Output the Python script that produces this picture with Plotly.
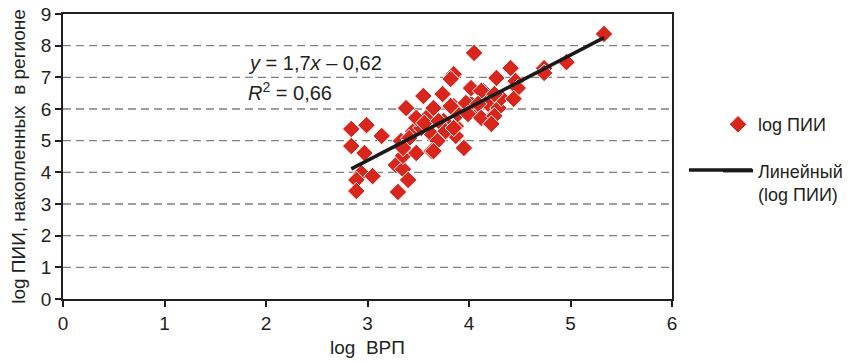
import plotly.graph_objects as go

# Data: log ВРП (x) and log ПИИ (y) per region
log_vrp = [2.84, 2.99, 3.14, 2.84, 2.97, 2.94, 3.05, 2.89, 2.89, 3.28,
           3.30, 3.35, 3.40, 3.38, 3.33, 3.35, 3.48, 3.45, 3.55, 3.58,
           3.65, 3.74, 3.63, 3.69, 3.63, 3.75, 3.85, 3.87, 3.87, 3.95,
           3.85, 3.82, 4.05, 3.97, 4.02, 4.09, 4.14, 4.19, 4.22, 4.29,
           4.27, 4.32, 4.41, 4.46, 4.48, 4.44, 4.74, 4.74, 4.96, 5.33,
           3.53, 3.48, 3.56, 3.70, 3.77, 3.41, 3.35, 3.65, 3.85, 3.89,
           3.82, 4.02, 4.12, 4.25, 3.97, 4.09, 3.99, 4.12, 4.25, 4.22]
log_pii = [5.37, 5.49, 5.15, 4.83, 4.61, 3.98, 3.88, 3.76, 3.41, 4.23,
           3.38, 4.10, 3.76, 6.03, 4.99, 4.52, 4.61, 5.30, 6.41, 5.72,
           6.03, 6.47, 5.21, 4.99, 4.67, 5.62, 6.09, 5.46, 5.15, 4.77,
           7.10, 6.95, 7.77, 5.94, 6.16, 5.84, 6.57, 6.16, 5.72, 6.03,
           6.98, 6.35, 7.29, 6.88, 6.66, 6.32, 7.29, 7.14, 7.48, 8.37,
           5.40, 5.72, 5.56, 5.62, 5.30, 5.08, 4.77, 4.67, 5.40, 5.84,
           6.09, 6.66, 6.57, 6.47, 6.19, 6.16, 5.84, 5.72, 5.78, 5.53]

# Linear trendline parameters (as shown on the chart)
trend_slope = 1.665
trend_intercept = -0.62
trend_x = [min(log_vrp), max(log_vrp)]
trend_y = [trend_slope * v + trend_intercept for v in trend_x]

x_ticks = [0, 1, 2, 3, 4, 5, 6]
y_ticks = [0, 1, 2, 3, 4, 5, 6, 7, 8, 9]

TEXT = "#231f20"
RED = "#d9261c"
FONT = "Liberation Sans, Arial, sans-serif"

# layout geometry (page is offset by the body margin)
ML, MT, PW, PH = 55, 6, 609, 285

fig = go.Figure()
fig.add_trace(go.Scatter(
    x=log_vrp, y=log_pii, mode="markers", name="log ПИИ",
    marker=dict(symbol="diamond", size=13.5, color=RED,
                line=dict(color="white", width=1)),
    legendgroup="a",
))
fig.add_trace(go.Scatter(
    x=trend_x, y=trend_y, mode="lines", name="Линейный<br>(log ПИИ)",
    line=dict(color="#1a1a1a", width=3.5),
    legendgroup="b",
))

# Gridlines (dashed) for 1..8
for v in y_ticks[1:-1]:
    fig.add_shape(type="line", xref="paper", yref="y", x0=0, x1=1, y0=v, y1=v,
                  line=dict(color="#808080", width=1.3, dash="8px,5px"), layer="below")

fig.add_annotation(x=1.80, y=7.45, xref="x", yref="y", xanchor="left", showarrow=False,
                   text="<i>y</i> = 1,7<i>x</i> – 0,62", font=dict(size=20, color=TEXT, family=FONT))
fig.add_annotation(x=1.80, y=6.54, xref="x", yref="y", xanchor="left", showarrow=False,
                   text="<i>R</i><sup>2</sup> = 0,66", font=dict(size=20, color=TEXT, family=FONT))

# extend legend line sample to the left, as in the reference
fig.add_shape(type="line", xref="paper", yref="paper",
              x0=(688 - 62) / PW, x1=(751 - 62) / PW,
              y0=(298 - 169) / PH, y1=(298 - 169) / PH,
              line=dict(color="#1a1a1a", width=3.5))

fig.update_layout(
    width=857, height=363,
    margin=dict(l=ML, r=857 - ML - PW, t=MT, b=363 - MT - PH),
    paper_bgcolor="white", plot_bgcolor="white",
    font=dict(family=FONT, size=19, color=TEXT),
    showlegend=True,
    legend=dict(x=(717 - 62) / PW, y=0.677, xanchor="left", yanchor="top", valign="top",
                font=dict(size=18, color=TEXT), tracegroupgap=20,
                bgcolor="rgba(0,0,0,0)"),
)
fig.update_xaxes(range=[0, 6], tickvals=x_ticks, showgrid=False, zeroline=False,
                 showline=True, linecolor=TEXT, linewidth=1.5, mirror=True, automargin=False,
                 ticks="outside", ticklen=6, tickcolor=TEXT, tickwidth=1.5,
                 ticklabeloverflow="allow",
                 tickfont=dict(size=19), title=dict(text="log  ВРП", font=dict(size=19), standoff=8))
fig.update_yaxes(range=[0, 9], tickvals=y_ticks, showgrid=False, zeroline=False,
                 showline=True, linecolor=TEXT, linewidth=1.5, mirror=True, automargin=False,
                 ticks="outside", ticklen=6, tickcolor=TEXT, tickwidth=1.5,
                 ticklabeloverflow="allow",
                 tickfont=dict(size=19),
                 title=dict(text="log ПИИ, накопленных  в регионе", font=dict(size=19), standoff=16))

fig.write_html("out.html")
